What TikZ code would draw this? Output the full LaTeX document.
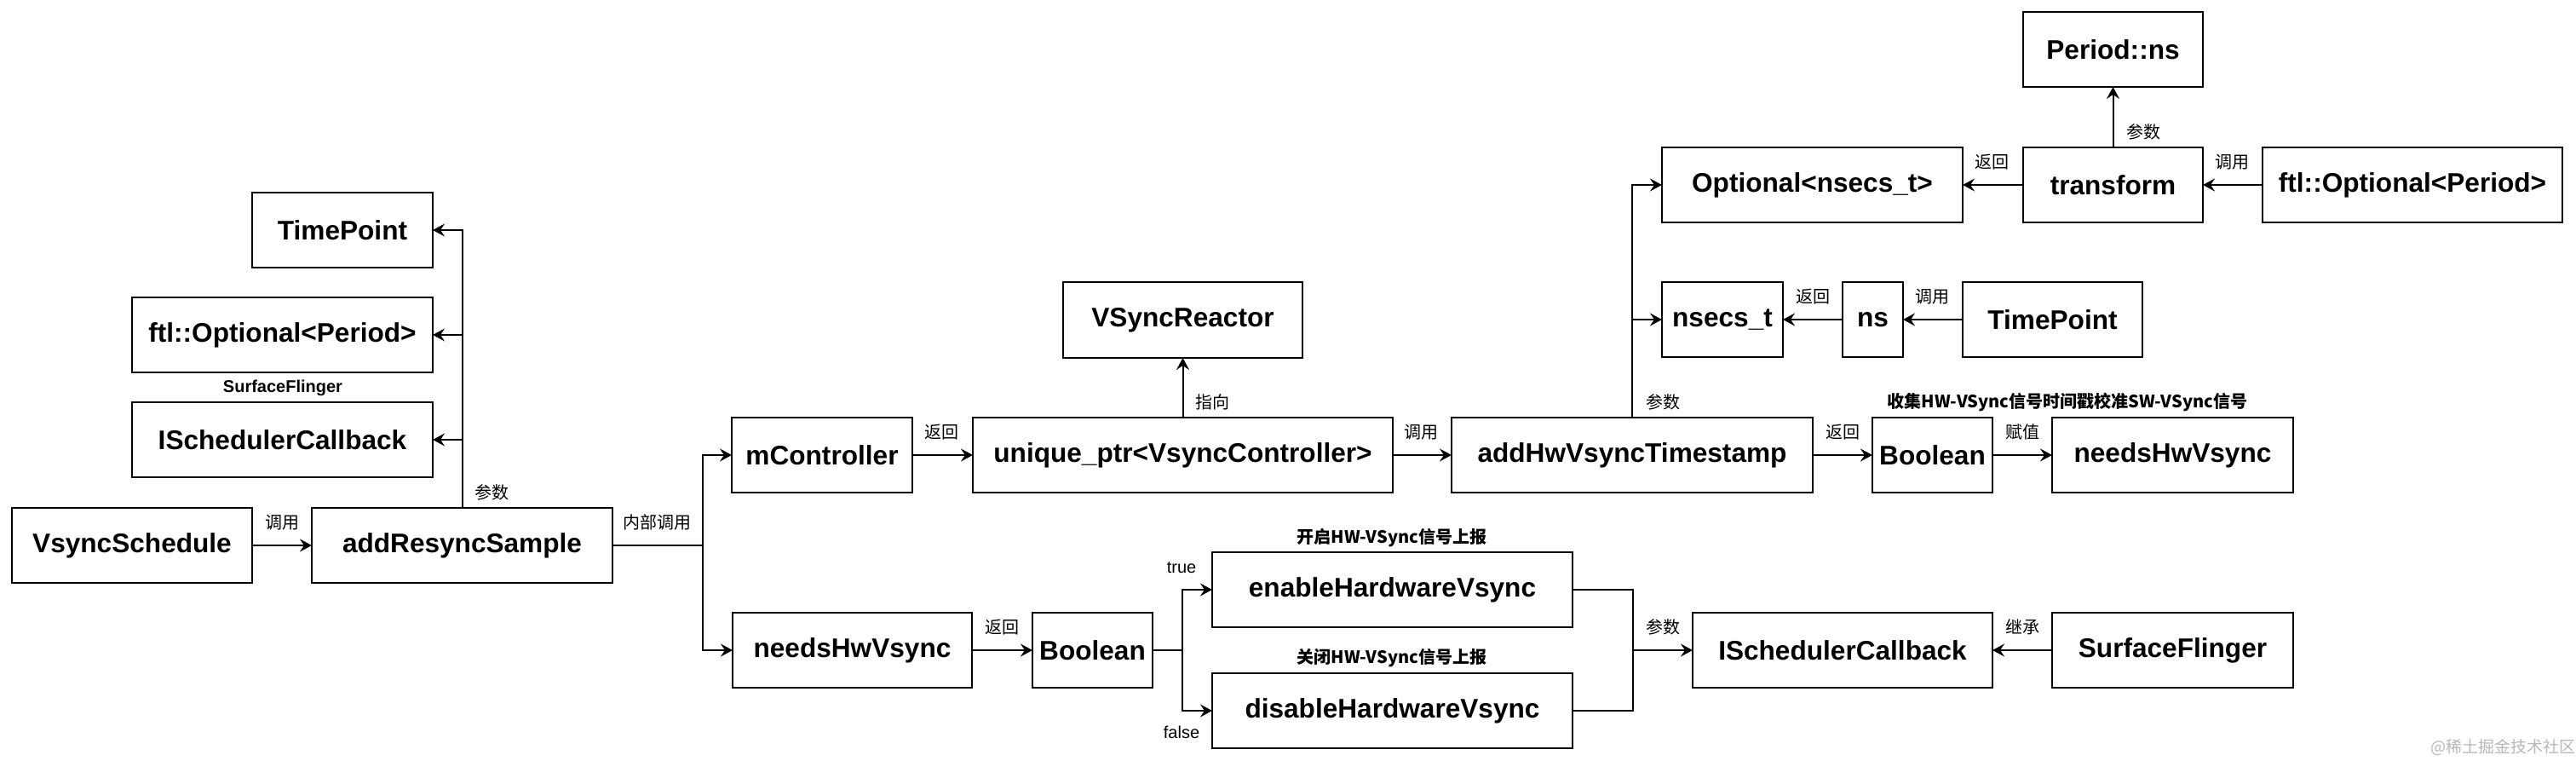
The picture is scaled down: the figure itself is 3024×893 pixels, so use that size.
\documentclass[tikz,border=0pt]{standalone}
\usepackage{fontspec}
\setmainfont{Liberation Sans}
\newfontfamily\cjk{Noto Sans CJK SC}
\usetikzlibrary{arrows.meta}
\tikzset{
 box/.style={draw, line width=1pt, inner sep=0pt, outer sep=0pt, font=\bfseries\fontsize{15.8}{18}\selectfont, align=center},
 arr/.style={draw, line width=1pt, -{Stealth[length=7pt,width=7.5pt,inset=2.5pt]}},
 conn/.style={draw, line width=1pt},
 lab/.style={inner sep=0pt, font=\cjk\fontsize{10}{12}\selectfont},
 blab/.style={inner sep=0pt, font=\cjk\bfseries\fontsize{10}{12}\selectfont},
 elab/.style={inner sep=0pt, font=\fontsize{10}{12}\selectfont},
 sflab/.style={inner sep=0pt, font=\bfseries\fontsize{10}{12}\selectfont},
 wmark/.style={inner sep=0pt, text=black!28, font=\cjk\fontsize{9.5}{11}\selectfont},
}
\newcommand\mybox[6]{\node[box, minimum width={(#4-#2)*0.5pt}, minimum height={(#5-#3)*0.5pt}] (#1) at ({(#2+#4)/2},{(#3+#5)/2}) {#6};}
\begin{document}
\begin{tikzpicture}[x=0.5pt,y=-0.5pt]
\useasboundingbox[fill=white] (0,0) rectangle (3024,893);
% left part
\mybox{tpa}{296}{226}{508}{314}{TimePoint}
\mybox{opa}{155}{349}{508}{437}{ftl::Optional<Period>}
\mybox{isa}{155}{472}{508}{560}{ISchedulerCallback}
\mybox{vs}{14}{596}{296}{684}{VsyncSchedule}
\mybox{ars}{366}{596}{719}{684}{addResyncSample}
% middle
\mybox{mc}{859}{490}{1071}{578}{mController}
\mybox{up}{1142}{490}{1635}{578}{unique\_ptr<VsyncController>}
\mybox{vr}{1248}{331}{1529}{420}{VSyncReactor}
\mybox{ahw}{1704}{490}{2128}{578}{addHwVsyncTimestamp}
\mybox{bob}{2198}{490}{2339}{578}{Boolean}
\mybox{nhb}{2409}{490}{2692}{578}{needsHwVsync}
% top right
\mybox{optn}{1951}{173}{2304}{261}{Optional<nsecs\_t>}
\mybox{tr}{2375}{173}{2586}{261}{transform}
\mybox{pns}{2375}{14}{2586}{102}{Period::ns}
\mybox{fop}{2656}{173}{3008}{261}{ftl::Optional<Period>}
\mybox{nst}{1951}{331}{2093}{419}{nsecs\_t}
\mybox{ns}{2163}{331}{2234}{419}{ns}
\mybox{tpb}{2304}{331}{2515}{419}{TimePoint}
% bottom
\mybox{nha}{860}{719}{1141}{807}{needsHwVsync}
\mybox{boa}{1212}{719}{1353}{807}{Boolean}
\mybox{en}{1423}{648}{1846}{736}{enableHardwareVsync}
\mybox{dis}{1423}{790}{1846}{878}{disableHardwareVsync}
\mybox{isb}{1987}{719}{2339}{807}{ISchedulerCallback}
\mybox{sf}{2409}{719}{2692}{807}{SurfaceFlinger}
% coordinates
\coordinate (bra) at (825,640);
\coordinate (brb) at (1388,763);
\coordinate (brc) at (1917,763);
% connectors
\draw[arr] (vs.east) -- (ars.west);
\draw[arr] (ars.north) |- (tpa.east);
\draw[arr] (ars.north) |- (opa.east);
\draw[arr] (ars.north) |- (isa.east);
\draw[conn] (ars.east) -- (bra);
\draw[arr] (bra) |- (mc.west);
\draw[arr] (bra) |- (nha.west);
\draw[arr] (mc.east) -- (up.west);
\draw[arr] (up.north) -- (vr.south);
\draw[arr] (up.east) -- (ahw.west);
\draw[arr] (ahw.north) |- (optn.west);
\draw[arr] (ahw.north) |- (nst.west);
\draw[arr] (ahw.east) -- (bob.west);
\draw[arr] (bob.east) -- (nhb.west);
\draw[arr] (tr.west) -- (optn.east);
\draw[arr] (tr.north) -- (pns.south);
\draw[arr] (fop.west) -- (tr.east);
\draw[arr] (ns.west) -- (nst.east);
\draw[arr] (tpb.west) -- (ns.east);
\draw[arr] (nha.east) -- (boa.west);
\draw[conn] (boa.east) -- (brb);
\draw[arr] (brb) |- (en.west);
\draw[arr] (brb) |- (dis.west);
\draw[conn] (en.east) -| (brc);
\draw[conn] (dis.east) -| (brc);
\draw[arr] (brc) -- (isb.west);
\draw[arr] (sf.west) -- (isb.east);
% labels
\node[lab] (l1) at (331,613) {调用};
\node[lab] (l2) at (577,578) {参数};
\node[sflab] (l3) at (332,455) {SurfaceFlinger};
\node[lab] (l4) at (771,613) {内部调用};
\node[lab] (l5) at (1105,507) {返回};
\node[lab] (l6) at (1423,472) {指向};
\node[lab] (l7) at (1668,507) {调用};
\node[lab] (l8) at (1952,472) {参数};
\node[lab] (l9) at (2163,507) {返回};
\node[lab] (l10) at (2374,507) {赋值};
\node[blab] (l11) at (2427,472) {收集HW-VSync信号时间戳校准SW-VSync信号};
\node[lab] (l12) at (2338,190) {返回};
\node[lab] (l13) at (2516,155) {参数};
\node[lab] (l14) at (2620,190) {调用};
\node[lab] (l15) at (2128,348) {返回};
\node[lab] (l16) at (2268,348) {调用};
\node[lab] (l17) at (1176,736) {返回};
\node[elab] (l18) at (1387,666) {true};
\node[elab] (l19) at (1387,859) {false};
\node[blab] (l20) at (1634,631) {开启HW-VSync信号上报};
\node[blab] (l21) at (1634,772) {关闭HW-VSync信号上报};
\node[lab] (l22) at (1952,736) {参数};
\node[lab] (l23) at (2374,736) {继承};
\node[wmark] (wm) at (2938,877) {@稀土掘金技术社区};
\end{tikzpicture}
\end{document}
